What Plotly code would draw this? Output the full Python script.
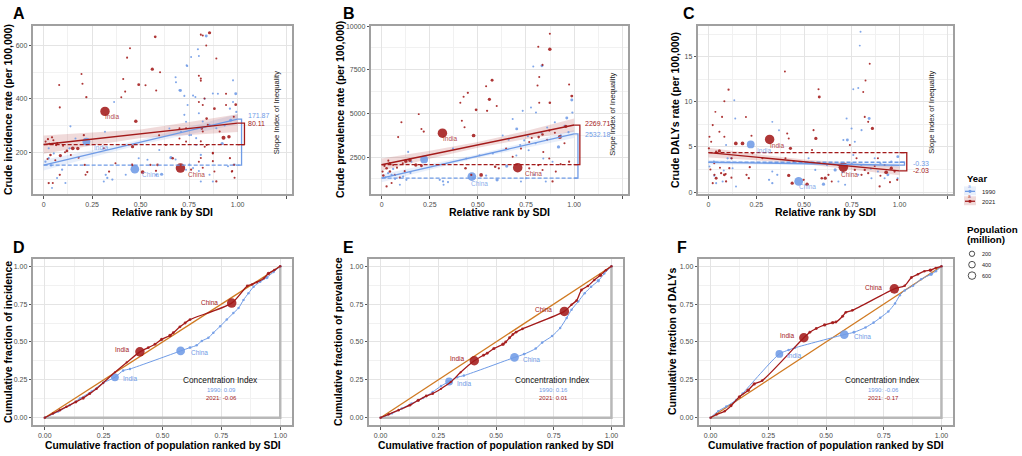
import numpy as np
import plotly.graph_objects as go

W, H = 1022, 456
BLUE = "#6f9be6"
RED = "#a31a1a"
ORANGE = "#d07a22"
FONT = "Liberation Sans"

# ---------------- data (x, y, population in millions) ----------------
# panel A - incidence
A_1990 = [(0.838, 635, 40), (0.795, 585, 5), (0.80, 560, 3), (0.74, 523, 5), (0.705, 431, 40), (0.682, 462, 5),
          (0.77, 412, 5), (0.83, 400, 5), (0.99, 419, 40), (0.964, 320, 40), (0.92, 233, 60), (0.22, 240, 870),
          (0.47, 137, 1150), (0.656, 180, 60), (0.608, 118, 60), (0.58, 116, 10), (0.32, 116, 10), (0.328, 104, 10),
          (0.354, 98, 10), (0.31, 91, 5), (0.363, 388, 3), (0.316, 277, 3), (0.138, 297, 5), (0.133, 215, 10),
          (0.095, 135, 10), (0.069, 104, 5), (0.026, 178, 10), (0.009, 165, 10), (0.038, 151, 10), (0.052, 196, 5),
          (0.026, 215, 5), (0.043, 67, 3), (0.112, 85, 5), (0.164, 252, 5), (0.423, 116, 5), (0.49, 178, 5),
          (0.535, 172, 5), (0.596, 209, 5), (0.648, 289, 3), (0.734, 314, 5), (0.751, 264, 5), (0.786, 227, 5),
          (0.81, 190, 10), (0.81, 91, 5), (0.855, 116, 5), (0.872, 91, 5), (0.898, 419, 5), (0.933, 301, 10),
          (0.96, 363, 10), (0.976, 388, 5), (0.77, 141, 5), (0.734, 135, 5), (0.708, 277, 5), (0.993, 351, 10),
          (0.76, 556, 3), (0.737, 525, 5), (0.68, 481, 5), (0.70, 432, 10), (0.725, 411, 5), (0.782, 407, 5),
          (0.872, 420, 5), (0.976, 469, 5), (0.742, 377, 5), (0.725, 340, 5), (0.80, 346, 5), (0.82, 315, 5),
          (0.855, 303, 5), (0.89, 290, 5), (0.786, 253, 5), (0.76, 265, 5), (0.68, 173, 5), (0.751, 154, 5),
          (0.80, 130, 5), (0.95, 148, 5), (0.984, 154, 10)]
A_2021 = [(0.575, 632, 30), (0.855, 647, 60), (0.81, 640, 5), (0.82, 637, 5), (0.445, 589, 3), (0.56, 511, 60),
          (0.60, 499, 5), (0.49, 453, 40), (0.43, 554, 5), (0.195, 493, 3), (0.08, 452, 5), (0.20, 456, 5),
          (0.22, 406, 10), (0.41, 474, 5), (0.42, 427, 5), (0.40, 406, 3), (0.525, 451, 5), (0.58, 431, 5),
          (0.475, 316, 80), (0.316, 353, 1400), (0.083, 368, 5), (0.207, 264, 10), (0.15, 215, 100),
          (0.176, 214, 80), (0.12, 205, 30), (0.086, 188, 60), (0.022, 249, 10), (0.043, 256, 10), (0.064, 227, 10),
          (0.035, 190, 20), (0.026, 85, 10), (0.047, 85, 5), (0.083, 116, 10), (0.212, 153, 10), (0.225, 126, 10),
          (0.216, 116, 5), (0.458, 221, 60), (0.456, 153, 20), (0.51, 126, 100), (0.587, 153, 20), (0.579, 131, 10),
          (0.705, 141, 1420), (0.76, 135, 10), (0.80, 165, 5), (0.83, 221, 5), (0.872, 196, 10), (0.88, 128, 5),
          (0.89, 91, 10), (0.927, 254, 130), (0.955, 258, 80), (0.97, 128, 10), (0.98, 153, 10), (0.99, 378, 30),
          (0.88, 363, 30), (0.84, 326, 20), (0.80, 388, 5), (0.815, 289, 20), (0.734, 240, 5), (0.70, 252, 5),
          (0.63, 227, 5), (0.595, 264, 5), (0.80, 486, 5), (0.81, 468, 5), (0.89, 551, 5), (0.94, 419, 5),
          (0.96, 178, 10), (0.84, 227, 5), (0.37, 159, 5), (0.337, 128, 10), (0.31, 215, 5), (0.665, 178, 20),
          (0.55, 153, 10), (0.838, 599, 3), (0.81, 476, 5), (0.829, 401, 5), (0.82, 377, 5), (0.94, 377, 5),
          (0.98, 333, 5), (0.846, 303, 5), (0.82, 278, 5), (0.907, 278, 5), (0.70, 290, 3), (0.734, 290, 3),
          (0.81, 241, 5), (0.872, 198, 5), (0.872, 167, 5), (0.81, 179, 5), (0.82, 142, 5), (0.972, 130, 5),
          (0.984, 105, 5), (0.01, 240, 5), (0.03, 232, 5), (0.05, 245, 5), (0.07, 235, 5), (0.10, 225, 5),
          (0.06, 170, 5), (0.02, 175, 5), (0.11, 200, 5), (0.14, 190, 5), (0.18, 180, 5)]
A_FIT_1990 = (152, 171.87)   # value at rank 0, slope index of inequality
A_FIT_2021 = (229, 80.11)
A_BAND_1990 = [20, 13, 9, 13, 19]
A_BAND_2021 = [34, 24, 16, 24, 33]

# panel B - prevalence
B_1990 = [(0.833, 7726, 40), (0.788, 7689, 5), (0.988, 5771, 40), (0.962, 4737, 40), (0.919, 3083, 60),
          (0.733, 5150, 5), (0.702, 4117, 40), (0.681, 4681, 5), (0.776, 5338, 5), (0.802, 5056, 5), (0.741, 3459, 5),
          (0.764, 2895, 5), (0.221, 2368, 870), (0.469, 1391, 1150), (0.65, 1992, 60), (0.6, 1203, 60),
          (0.543, 1447, 10), (0.319, 1109, 10), (0.345, 1071, 10), (0.302, 1203, 10), (0.322, 921, 5),
          (0.129, 1203, 10), (0.112, 1391, 10), (0.052, 1485, 10), (0.095, 921, 5), (0.138, 2801, 5),
          (0.155, 2237, 5), (0.06, 1823, 10), (0.034, 1579, 10), (0.371, 2989, 5), (0.44, 2425, 5), (0.509, 2613, 5),
          (0.578, 2707, 5), (0.629, 3741, 5), (0.75, 1297, 5), (0.793, 1485, 5), (0.853, 1109, 5), (0.888, 2237, 5),
          (0.931, 3741, 10), (0.971, 3929, 10), (0.991, 5056, 10), (0.84, 2425, 5), (0.724, 1109, 5),
          (0.72, 3200, 5), (0.76, 3700, 5), (0.80, 3300, 5), (0.83, 3900, 5), (0.86, 4200, 5), (0.90, 4500, 5),
          (0.95, 4300, 5), (0.70, 2600, 5), (0.66, 3500, 5), (0.02, 1350, 5), (0.07, 1250, 5), (0.15, 1600, 5)]
B_2021 = [(0.874, 8684, 80), (0.814, 8816, 5), (0.874, 9568, 5), (0.836, 7782, 5), (0.574, 6899, 40),
          (0.543, 6560, 5), (0.56, 5808, 60), (0.548, 5150, 10), (0.598, 5432, 5), (0.491, 5207, 30),
          (0.478, 3741, 100), (0.409, 5620, 5), (0.426, 5959, 5), (0.448, 6185, 10), (0.417, 4587, 5),
          (0.431, 4211, 5), (0.316, 3872, 1400), (0.193, 4963, 3), (0.207, 4117, 5), (0.219, 3966, 10),
          (0.103, 4493, 5), (0.086, 3647, 5), (0.126, 2274, 100), (0.147, 2331, 100), (0.178, 2049, 80),
          (0.207, 2011, 40), (0.043, 2143, 20), (0.026, 1861, 20), (0.005, 1673, 10), (0.009, 1447, 20),
          (0.043, 1673, 20), (0.069, 1485, 10), (0.095, 1335, 10), (0.026, 827, 10), (0.052, 1015, 5),
          (0.436, 1861, 20), (0.466, 1485, 10), (0.517, 1485, 100), (0.59, 1955, 20), (0.609, 1861, 10),
          (0.707, 1898, 1420), (0.767, 1861, 10), (0.814, 2049, 10), (0.836, 1767, 5), (0.888, 1109, 10),
          (0.974, 2237, 10), (0.926, 3647, 130), (0.957, 4267, 60), (0.988, 5996, 40), (0.974, 6655, 5),
          (0.874, 5620, 20), (0.819, 5620, 5), (0.816, 3647, 20), (0.836, 3797, 20), (0.81, 6598, 5),
          (0.819, 7087, 5), (0.871, 4023, 10), (0.767, 3365, 5), (0.724, 2989, 5), (0.681, 2519, 5),
          (0.647, 2989, 5), (0.871, 2425, 5), (0.905, 1673, 5), (0.015, 2000, 5), (0.035, 2300, 5),
          (0.06, 2050, 5), (0.08, 1900, 5), (0.11, 2150, 5), (0.12, 1700, 5), (0.86, 3500, 5), (0.90, 3900, 5),
          (0.95, 3300, 5), (0.78, 3600, 5), (0.84, 2800, 5), (0.93, 2100, 5)]
B_FIT_1990 = (1297, 2532.18)
B_FIT_2021 = (2068, 2269.71)
B_BAND_1990 = [230, 150, 100, 150, 230]
B_BAND_2021 = [350, 230, 160, 230, 380]

# panel C - DALYs
C_1990 = [(0.796, 17.79, 3), (0.792, 16.25, 3), (0.758, 11.4, 3), (0.784, 11.54, 3), (0.841, 8.16, 40),
          (0.801, 6.87, 5), (0.749, 7.06, 5), (0.727, 5.77, 40), (0.706, 5.77, 5), (0.758, 4.12, 5), (0.991, 3.93, 40),
          (0.939, 1.91, 40), (0.99, 1.54, 5), (0.957, 3.38, 10), (0.221, 5.29, 870), (0.472, 1.18, 1150),
          (0.602, 0.88, 60), (0.663, 2.46, 60), (0.334, 0.99, 10), (0.317, 1.36, 10), (0.36, 1.91, 10),
          (0.334, 2.28, 5), (0.135, 10.18, 3), (0.14, 8.16, 3), (0.092, 5.22, 5), (0.118, 3.75, 10), (0.1, 3.75, 10),
          (0.126, 2.65, 5), (0.074, 1.18, 5), (0.04, 0.99, 5), (0.028, 3.38, 10), (0.005, 2.83, 5), (0.144, 0.62, 3),
          (0.334, 7.79, 3), (0.369, 6.87, 3), (0.524, 3.75, 5), (0.559, 2.46, 5), (0.68, 1.18, 5), (0.715, 0.81, 5),
          (0.87, 3.75, 5), (0.887, 2.28, 5), (0.922, 1.54, 5), (0.784, 1.91, 5), (0.853, 1.54, 5), (0.766, 5.59, 5),
          (0.723, 8.16, 5), (0.75, 3.2, 5), (0.80, 3.0, 5), (0.85, 2.6, 5), (0.90, 3.2, 5), (0.70, 2.2, 5),
          (0.62, 3.0, 5), (0.03, 1.8, 5), (0.08, 2.4, 5)]
C_2021 = [(0.005, 6.14, 5), (0.014, 5.59, 5), (0.002, 4.85, 10), (0.022, 7.43, 5), (0.036, 8.9, 3), (0.057, 6.69, 5),
          (0.083, 6.14, 5), (0.04, 4.48, 10), (0.105, 11.36, 10), (0.083, 10.07, 5), (0.071, 8.34, 5),
          (0.057, 4.56, 60), (0.143, 5.4, 100), (0.178, 5.4, 100), (0.121, 3.75, 10), (0.066, 2.1, 10),
          (0.031, 1.91, 10), (0.04, 1.54, 40), (0.083, 1.91, 40), (0.092, 1.18, 10), (0.109, 2.65, 10),
          (0.022, 0.99, 5), (0.199, 1.91, 10), (0.211, 1.54, 10), (0.216, 2.76, 10), (0.23, 4.3, 5), (0.225, 6.25, 5),
          (0.196, 8.34, 3), (0.32, 5.84, 1400), (0.282, 3.75, 5), (0.429, 4.85, 60), (0.412, 6.5, 5), (0.42, 5.95, 5),
          (0.403, 3.75, 5), (0.42, 1.84, 60), (0.438, 0.99, 60), (0.446, 3.38, 5), (0.4, 13.38, 3), (0.576, 11.4, 5),
          (0.58, 10.55, 40), (0.562, 5.95, 60), (0.55, 6.87, 5), (0.542, 4.67, 5), (0.516, 0.88, 80),
          (0.498, 1.36, 10), (0.593, 1.54, 20), (0.611, 1.54, 60), (0.628, 1.91, 10), (0.706, 2.76, 1420),
          (0.766, 2.46, 10), (0.801, 1.91, 10), (0.818, 2.46, 10), (0.836, 2.1, 10), (0.818, 8.34, 5),
          (0.81, 11.1, 3), (0.822, 12.39, 3), (0.844, 14.23, 3), (0.858, 7.06, 60), (0.836, 7.79, 5),
          (0.887, 3.75, 5), (0.896, 0.62, 10), (0.93, 2.2, 100), (0.957, 2.65, 60), (0.988, 1.36, 10),
          (0.974, 2.28, 10), (0.922, 3.01, 5), (0.775, 3.75, 5), (0.74, 5.22, 5), (0.68, 3.01, 5), (0.645, 1.18, 5),
          (0.01, 2.5, 5), (0.03, 3.2, 5), (0.06, 2.7, 5), (0.09, 2.0, 5), (0.12, 1.6, 5), (0.87, 2.9, 5),
          (0.90, 1.8, 5), (0.95, 1.1, 5)]
C_FIT_1990 = (3.31, -0.33)
C_FIT_2021 = (4.38, -2.03)
C_BAND_1990 = [0.25, 0.16, 0.12, 0.16, 0.25]
C_BAND_2021 = [0.55, 0.35, 0.25, 0.33, 0.48]

BAND_X = [0, 0.25, 0.5, 0.75, 1.0]

# panels D-F - concentration curves (cumulative population, cumulative burden, population)
D_1990 = [(0, 0, 10), (0.057, 0.04, 10), (0.106, 0.083, 20), (0.149, 0.126, 20), (0.199, 0.174, 10),
          (0.248, 0.23, 20), (0.298, 0.267, 870), (0.333, 0.311, 20), (0.362, 0.322, 20), (0.577, 0.441, 1150),
          (0.617, 0.463, 40), (0.645, 0.478, 20), (0.667, 0.507, 20), (0.695, 0.528, 20), (0.716, 0.561, 20),
          (0.745, 0.604, 20), (0.773, 0.648, 20), (0.801, 0.691, 20), (0.823, 0.724, 20), (0.844, 0.778, 20),
          (0.865, 0.822, 20), (0.887, 0.865, 20), (0.915, 0.898, 20), (0.943, 0.926, 80), (0.972, 0.963, 20),
          (1, 1, 20)]
D_2021 = [(0, 0, 20), (0.035, 0.028, 20), (0.064, 0.05, 20), (0.092, 0.072, 20), (0.132, 0.104, 40),
          (0.163, 0.13, 60), (0.191, 0.159, 40), (0.22, 0.191, 20), (0.248, 0.23, 10), (0.298, 0.30, 10),
          (0.348, 0.365, 10), (0.404, 0.435, 1400), (0.44, 0.463, 40), (0.468, 0.485, 40), (0.496, 0.517, 60),
          (0.532, 0.543, 80), (0.546, 0.561, 40), (0.574, 0.6, 40), (0.596, 0.626, 40), (0.617, 0.648, 30),
          (0.794, 0.757, 1420), (0.86, 0.87, 30), (0.88, 0.88, 20), (0.9, 0.895, 20), (0.93, 0.92, 10),
          (0.95, 0.952, 80), (0.975, 0.975, 20), (1, 1, 20)]
D_CI = ("0.09", "-0.06")

E_1990 = [(0, 0, 10), (0.05, 0.028, 10), (0.092, 0.061, 20), (0.134, 0.093, 20), (0.184, 0.13, 20),
          (0.226, 0.17, 20), (0.262, 0.209, 20), (0.297, 0.239, 870), (0.332, 0.267, 20), (0.361, 0.278, 20),
          (0.58, 0.398, 1150), (0.622, 0.42, 40), (0.672, 0.457, 20), (0.7, 0.496, 20), (0.743, 0.539, 20),
          (0.778, 0.593, 20), (0.806, 0.659, 20), (0.827, 0.713, 20), (0.856, 0.767, 20), (0.884, 0.822, 20),
          (0.912, 0.865, 20), (0.943, 0.904, 80), (0.969, 0.952, 20), (1, 1, 20)]
E_2021 = [(0, 0, 20), (0.035, 0.022, 20), (0.078, 0.05, 20), (0.127, 0.083, 40), (0.163, 0.115, 60),
          (0.198, 0.143, 40), (0.226, 0.159, 20), (0.262, 0.191, 10), (0.304, 0.235, 10), (0.347, 0.3, 10),
          (0.406, 0.376, 1400), (0.446, 0.413, 40), (0.462, 0.426, 40), (0.491, 0.457, 60), (0.53, 0.485, 80),
          (0.542, 0.5, 40), (0.559, 0.528, 40), (0.573, 0.55, 30), (0.587, 0.565, 30), (0.615, 0.587, 30),
          (0.796, 0.702, 1420), (0.827, 0.746, 20), (0.849, 0.774, 20), (0.87, 0.843, 40), (0.898, 0.87, 20),
          (0.926, 0.909, 20), (0.952, 0.941, 80), (0.976, 0.974, 20), (1, 1, 20)]
E_CI = ("0.16", "0.01")

F_1990 = [(0, 0, 10), (0.033, 0.043, 10), (0.068, 0.074, 20), (0.111, 0.117, 20), (0.139, 0.16, 20),
          (0.298, 0.421, 870), (0.338, 0.447, 20), (0.366, 0.462, 20), (0.579, 0.549, 1150), (0.621, 0.564, 40),
          (0.671, 0.596, 20), (0.706, 0.628, 20), (0.735, 0.66, 20), (0.77, 0.702, 20), (0.799, 0.755, 20),
          (0.82, 0.809, 20), (0.841, 0.84, 20), (0.877, 0.872, 20), (0.912, 0.915, 20), (0.955, 0.947, 80),
          (0.976, 0.968, 20), (1, 1, 20)]
F_2021 = [(0, 0, 20), (0.026, 0.021, 20), (0.061, 0.043, 20), (0.089, 0.079, 40), (0.125, 0.138, 60),
          (0.163, 0.181, 80), (0.189, 0.223, 60), (0.224, 0.245, 20), (0.404, 0.528, 1400), (0.43, 0.564, 40),
          (0.458, 0.589, 40), (0.494, 0.613, 60), (0.529, 0.628, 80), (0.543, 0.632, 40), (0.572, 0.67, 40),
          (0.586, 0.696, 30), (0.614, 0.709, 30), (0.796, 0.851, 1420), (0.841, 0.872, 20), (0.87, 0.926, 40),
          (0.898, 0.947, 20), (0.926, 0.968, 20), (0.952, 0.974, 80), (0.976, 0.989, 20), (1, 1, 20)]
F_CI = ("-0.06", "-0.17")

LEGEND_POP = [200, 400, 600]


def msize(pop):
    return 1.6 + 0.21 * np.sqrt(np.asarray(pop, dtype=float))


def rgba(hexcol, a):
    h = hexcol.lstrip("#")
    return "rgba(%d,%d,%d,%s)" % (int(h[0:2], 16), int(h[2:4], 16), int(h[4:6], 16), a)


def px(x, y):
    return x / W, 1 - y / H


fig = go.Figure()
annotations = []
shapes = []


def ax_names(k):
    return ("x" if k == 1 else "x%d" % k), ("y" if k == 1 else "y%d" % k)


def note(k, x, y, text, color="#222", size=6.5, xanchor="center", angle=0, bold=False):
    xa, ya = ax_names(k)
    annotations.append(dict(x=x, y=y, xref=xa, yref=ya, text=("<b>%s</b>" % text) if bold else text,
                            showarrow=False, xanchor=xanchor, yanchor="middle", textangle=angle,
                            font=dict(family=FONT, size=size, color=color)))


def add_top(k, pts90, pts21, fit90, fit21, band90, band21, brx):
    xa, ya = ax_names(k)
    common = dict(xaxis=xa, yaxis=ya, showlegend=False, hoverinfo="skip")
    bx = np.array(BAND_X)
    for fit, band, col in ((fit90, band90, BLUE), (fit21, band21, RED)):
        mid = fit[0] + fit[1] * bx
        hw = np.array(band)
        fig.add_trace(go.Scatter(x=np.concatenate([bx, bx[::-1]]), y=np.concatenate([mid + hw, (mid - hw)[::-1]]),
                                 fill="toself", fillcolor=rgba(col, 0.16), mode="lines", line=dict(width=0), **common))
    for pts, col in ((pts90, BLUE), (pts21, RED)):
        x, y, p = zip(*pts)
        fig.add_trace(go.Scatter(x=x, y=y, mode="markers",
                                 marker=dict(size=msize(p), color=col, opacity=0.88, line=dict(width=0)), **common))
    for fit, col, bxk in ((fit90, BLUE, brx[0]), (fit21, RED, brx[1])):
        b0, sii = fit
        fig.add_trace(go.Scatter(x=[0, 1], y=[b0, b0 + sii], mode="lines", line=dict(color=col, width=1.4), **common))
        fig.add_trace(go.Scatter(x=[0, bxk], y=[b0, b0], mode="lines",
                                 line=dict(color=col, width=1.3, dash="4px,2px"), **common))
        fig.add_trace(go.Scatter(x=[1, bxk, bxk, 1], y=[b0 + sii, b0 + sii, b0, b0], mode="lines",
                                 line=dict(color=col, width=1.3), **common))


def add_bottom(k, pts90, pts21, ci, lab):
    xa, ya = ax_names(k)
    common = dict(xaxis=xa, yaxis=ya, showlegend=False, hoverinfo="skip")
    fig.add_trace(go.Scatter(x=[0, 1, 1], y=[0, 0, 1], mode="lines", line=dict(color="#b8b8b8", width=2.5), **common))
    fig.add_trace(go.Scatter(x=[0, 1], y=[0, 1], mode="lines", line=dict(color=ORANGE, width=1.3), **common))
    for pts, col, w in ((pts90, BLUE, 1.0), (pts21, RED, 1.3)):
        x, y, p = zip(*pts)
        fig.add_trace(go.Scatter(x=x, y=y, mode="lines", line=dict(color=col, width=w, shape="spline", smoothing=0.7),
                                 **common))
        fig.add_trace(go.Scatter(x=x, y=y, mode="markers",
                                 marker=dict(size=msize(p), color=col, opacity=0.88, line=dict(width=0)), **common))
    # country labels
    note(k, lab[0][0], lab[0][1], "India", RED, 6.5)
    note(k, lab[1][0], lab[1][1], "China", RED, 6.5)
    note(k, lab[2][0], lab[2][1], "India", BLUE, 6.5)
    note(k, lab[3][0], lab[3][1], "China", BLUE, 6.5)
    note(k, 0.745, 0.25, "Concentration Index", "#111", 8.3)
    note(k, 0.75, 0.18, "1990: " + ci[0], BLUE, 6)
    note(k, 0.75, 0.132, "2021: " + ci[1], RED, 6)


# ---------------- panels ----------------
add_top(1, A_1990, A_2021, A_FIT_1990, A_FIT_2021, A_BAND_1990, A_BAND_2021, (1.02, 1.035))
note(1, 1.045, 336, "171.87", BLUE, 7, "left")
note(1, 1.045, 306, "80.11", RED, 7, "left")
note(1, 1.2, 348, "Slope Index of Inequality", "#222", 7.6, angle=-90)
note(1, 0.35, 335, "India", rgba(RED, 0.85))
note(1, 0.294, 218, "India", rgba(BLUE, 0.85))
note(1, 0.55, 116, "China", rgba(BLUE, 0.85))
note(1, 0.79, 118, "China", rgba(RED, 0.85))

add_top(2, B_1990, B_2021, B_FIT_1990, B_FIT_2021, B_BAND_1990, B_BAND_2021, (1.02, 1.03))
note(2, 1.045, 4400, "2269.71", RED, 7, "left")
note(2, 1.045, 3780, "2532.18", BLUE, 7, "left")
note(2, 1.2, 4960, "Slope Index of Inequality", "#222", 7.6, angle=-90)
note(2, 0.353, 3553, "India", rgba(RED, 0.85))
note(2, 0.79, 1579, "China", rgba(RED, 0.85))
note(2, 0.51, 1015, "China", rgba(BLUE, 0.85))

add_top(3, C_1990, C_2021, C_FIT_1990, C_FIT_2021, C_BAND_1990, C_BAND_2021, (1.026, 1.038))
note(3, 1.06, 3.12, "-0.33", BLUE, 7, "left")
note(3, 1.06, 2.43, "-2.03", RED, 7, "left")
note(3, 1.17, 8.9, "Slope Index of Inequality", "#222", 7.6, angle=-90)
note(3, 0.36, 5.15, "India", rgba(RED, 0.85))
note(3, 0.29, 4.6, "India", rgba(BLUE, 0.85))
note(3, 0.52, 0.62, "China", rgba(BLUE, 0.85))
note(3, 0.74, 2.0, "China", rgba(RED, 0.85))

add_bottom(4, D_1990, D_2021, D_CI, [(0.33, 0.448), (0.70, 0.763), (0.362, 0.257), (0.655, 0.43)])
add_bottom(5, E_1990, E_2021, E_CI, [(0.33, 0.391), (0.704, 0.713), (0.36, 0.228), (0.655, 0.387)])
add_bottom(6, F_1990, F_2021, F_CI, [(0.33, 0.543), (0.704, 0.857), (0.362, 0.41), (0.657, 0.538)])

# ---------------- axes ----------------
axis_style = dict(showgrid=True, gridcolor="#e4e4e4", gridwidth=0.8, zeroline=False, showline=True, mirror=True,
                  linecolor="#a0a0a0", linewidth=1.5, ticks="outside", ticklen=2.5, tickwidth=0.8, tickcolor="#555",
                  tickfont=dict(family=FONT, size=7, color="#4d4d4d"))

top_dom = [(33, 292), (371, 628), (698, 953)]
bot_dom = [(33, 292), (369, 623), (699, 953)]
top_y = (1 - 193 / H, 1 - 23 / H)
bot_y = (1 - 426 / H, 1 - 258 / H)
top_yranges = [(43, 673), (373, 10020), (-0.25, 18.45)]
top_yticks = [([200, 400, 600], 100), ([2500, 5000, 7500, 10000], 1250), ([0, 5, 10, 15], 2.5)]
frac_ticks = [0, 0.25, 0.5, 0.75, 1.0]
frac_text = ["0.00", "0.25", "0.50", "0.75", "1.00"]

layout_axes = {}
for i in range(3):
    k = i + 1
    xn = "xaxis" if k == 1 else "xaxis%d" % k
    yn = "yaxis" if k == 1 else "yaxis%d" % k
    xa, ya = ax_names(k)
    layout_axes[xn] = dict(axis_style, domain=[top_dom[i][0] / W, top_dom[i][1] / W], anchor=ya,
                           range=[-0.055, 1.28], tickvals=[0, 0.25, 0.5, 0.75, 1.0, 1.25],
                           ticktext=["0", "0.25", "0.50", "0.75", "1.00", ""],
                           minor=dict(tick0=0, dtick=0.125, showgrid=True, gridcolor="#f1f1f1", gridwidth=0.6))
    tv, md = top_yticks[i]
    layout_axes[yn] = dict(axis_style, domain=list(top_y), anchor=xa, range=list(top_yranges[i]), tickvals=tv,
                           ticktext=[str(v) for v in tv],
                           minor=dict(tick0=0, dtick=md, showgrid=True, gridcolor="#f1f1f1", gridwidth=0.6))
for i in range(3):
    k = i + 4
    xn, yn = "xaxis%d" % k, "yaxis%d" % k
    xa, ya = ax_names(k)
    frac = dict(axis_style, range=[-0.05, 1.05], tickvals=frac_ticks, ticktext=frac_text,
                minor=dict(tick0=0, dtick=0.125, showgrid=True, gridcolor="#f1f1f1", gridwidth=0.6))
    layout_axes[xn] = dict(frac, domain=[bot_dom[i][0] / W, bot_dom[i][1] / W], anchor=ya)
    layout_axes[yn] = dict(frac, domain=list(bot_y), anchor=xa)

# ---------------- titles, panel letters ----------------
def paper_text(x, y, text, size, color="#000", angle=0, xanchor="center", bold=True):
    xp, yp = px(x, y)
    annotations.append(dict(x=xp, y=yp, xref="paper", yref="paper", text=("<b>%s</b>" % text) if bold else text,
                            showarrow=False, xanchor=xanchor, yanchor="middle", textangle=angle,
                            font=dict(family=FONT, size=size, color=color)))


top_centre = (23 + 193) / 2
bot_centre = (258 + 426) / 2
paper_text(8, top_centre, "Crude incidence rate (per 100,000)", 10.5, angle=-90)
paper_text(340, top_centre, "Crude prevalence rate (per 100,000)", 10.5, angle=-90)
paper_text(675, top_centre, "Crude DALYs rate (per 100,000)", 10.5, angle=-90)
paper_text(8, bot_centre, "Cumulative fraction of incidence", 10.5, angle=-90)
paper_text(338, bot_centre, "Cumulative fraction of prevalence", 10.5, angle=-90)
paper_text(672, bot_centre, "Cumulative fraction of DALYs", 10.5, angle=-90)
for (a, b) in top_dom:
    paper_text((a + b) / 2, 211, "Relative rank by SDI", 10.5)
for (a, b) in bot_dom:
    paper_text((a + b) / 2, 446, "Cumulative fraction of population ranked by SDI", 10.3)
for letter, x, y in (("A", 19, 11), ("B", 349, 11), ("C", 689, 11), ("D", 19, 247), ("E", 348, 247), ("F", 682, 247)):
    paper_text(x, y, letter, 16)

# ---------------- legends ----------------
paper_text(965, 177, "Year", 9.5, xanchor="left")
for yy, col, lab in ((190, BLUE, "1990"), (200, RED, "2021")):
    x0, y0 = px(964, yy - 5)
    x1, y1 = px(976, yy + 4)
    shapes.append(dict(type="rect", xref="paper", yref="paper", x0=x0, x1=x1, y0=y1, y1=y0,
                       fillcolor=rgba(col, 0.16), line=dict(width=0)))
    a0, b0 = px(965, yy)
    a1, _ = px(975, yy)
    shapes.append(dict(type="line", xref="paper", yref="paper", x0=a0, x1=a1, y0=b0, y1=b0,
                       line=dict(color=col, width=1.3)))
    cx, cy = px(970, yy)
    shapes.append(dict(type="circle", xref="paper", yref="paper", xsizemode="pixel", ysizemode="pixel",
                       xanchor=cx, yanchor=cy, x0=-1.6, x1=1.6, y0=-1.6, y1=1.6,
                       fillcolor=col, line=dict(width=0)))
    paper_text(966, yy - 5, "a", 5, color=rgba(col, 0.8), xanchor="left", bold=False)
    paper_text(980, yy + 0.5, lab, 6, color="#222", xanchor="left", bold=False)

paper_text(965, 228, "Population", 9.8, xanchor="left")
paper_text(965, 239, "(million)", 9.8, xanchor="left")
for yy, p in zip((253, 264, 275), LEGEND_POP):
    r = float(msize(p)) / 2 + 0.4
    cx, cy = px(972, yy)
    shapes.append(dict(type="circle", xref="paper", yref="paper", xsizemode="pixel", ysizemode="pixel",
                       xanchor=cx, yanchor=cy, x0=-r, x1=r, y0=-r, y1=r,
                       fillcolor="rgba(0,0,0,0)", line=dict(color="#222", width=0.8)))
    paper_text(980, yy, str(p), 5.5, color="#222", xanchor="left", bold=False)

fig.update_layout(width=W, height=H, margin=dict(l=0, r=0, t=0, b=0), paper_bgcolor="white",
                  plot_bgcolor="white", showlegend=False, annotations=annotations, shapes=shapes,
                  font=dict(family=FONT), **layout_axes)

# page body margin would shift the figure by 8px
fig.write_html("out.html", config={"displayModeBar": False},
               post_script="document.body.style.margin='0';document.body.style.overflow='hidden';")
